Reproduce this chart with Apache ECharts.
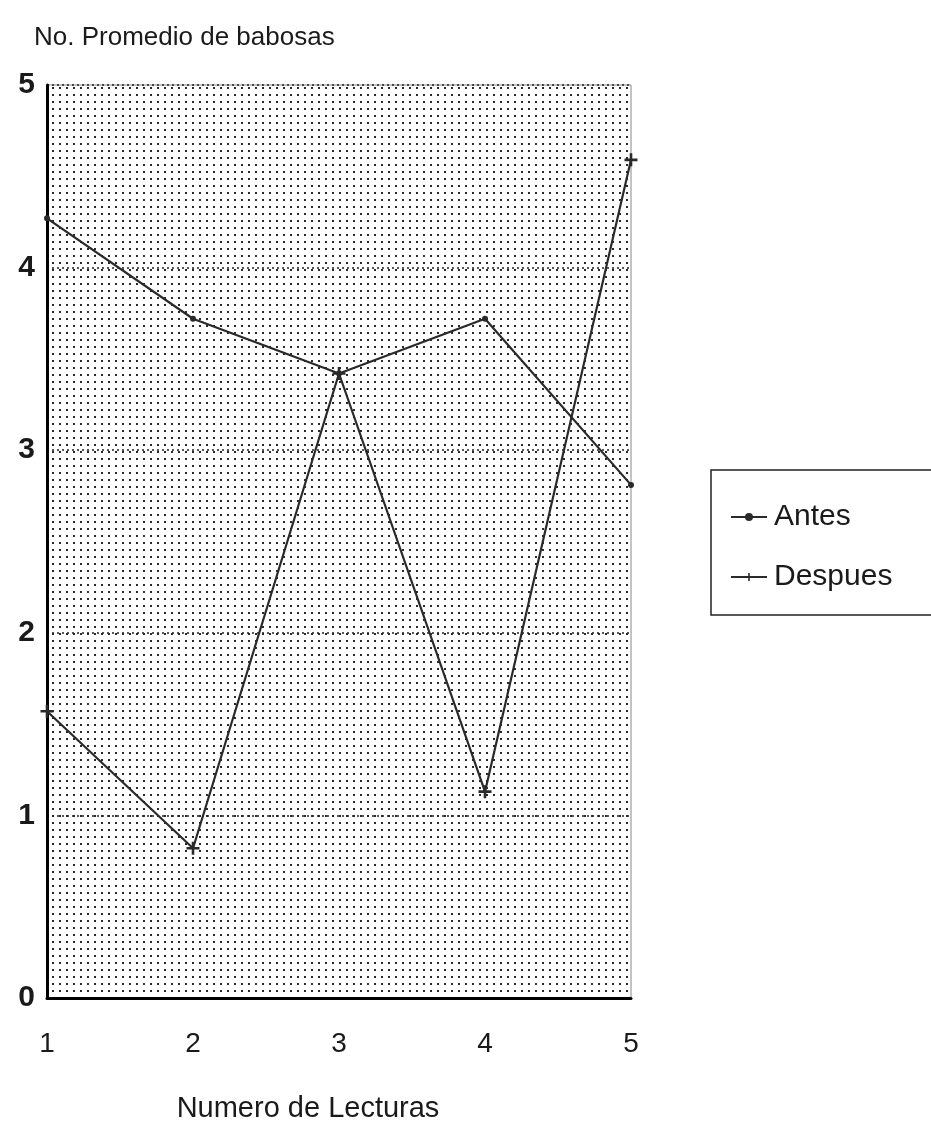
<!DOCTYPE html>
<html>
<head>
<meta charset="utf-8">
<script src="https://cdn.jsdelivr.net/npm/echarts@6/dist/echarts.min.js"></script>
<style>
  html, body { margin: 0; padding: 0; background: #fff; }
  #chart { width: 931px; height: 1128px; }
</style>
</head>
<body>
<div id="chart"></div>
<script>
// Reading numbers (x axis) and average slug counts per series
const lecturas = ['1', '2', '3', '4', '5'];
const antes = [4.27, 3.72, 3.42, 3.72, 2.81];
const despues = [1.57, 0.82, 3.42, 1.13, 4.59];
const yTicks = [0, 1, 2, 3, 4, 5];

// Dotted background texture for the plot area
function dotPattern() {
  const c = document.createElement('canvas');
  c.width = 7; c.height = 7;
  const ctx = c.getContext('2d');
  ctx.fillStyle = '#fff';
  ctx.fillRect(0, 0, 7, 7);
  ctx.fillStyle = '#2a2a2a';
  ctx.fillRect(3, 3, 2, 2);
  return c;
}

const FONT = '"Liberation Sans", Arial, Helvetica, sans-serif';
const INK = '#1a1a1a';
const plusPath = 'path://M4,0H6V4H10V6H6V10H4V6H0V4H4Z';

const chart = echarts.init(document.getElementById('chart'), null, { renderer: 'canvas' });
chart.setOption({
  animation: false,
  backgroundColor: '#fff',
  title: {
    text: 'No. Promedio de babosas',
    left: 29, top: 20,
    textStyle: { fontFamily: FONT, fontSize: 26, fontWeight: 'normal', color: INK }
  },
  graphic: [{
    type: 'rect',
    shape: { x: 711, y: 470, width: 240, height: 145 },
    style: { fill: '#fff', stroke: '#222', lineWidth: 1.5 },
    z: 0
  }],
  legend: {
    left: 725, top: 497,
    orient: 'vertical',
    itemGap: 30,
    itemWidth: 36,
    itemHeight: 10,
    textStyle: { fontFamily: FONT, fontSize: 30, color: INK, padding: [0, 0, 0, 2] },
    data: ['Antes', 'Despues'],
    z: 5
  },
  grid: {
    left: 47, right: 300, top: 85, bottom: 122,
    show: true,
    backgroundColor: { image: dotPattern(), repeat: 'repeat' },
    borderColor: '#888', borderWidth: 1
  },
  xAxis: {
    type: 'category',
    data: lecturas,
    boundaryGap: false,
    name: 'Numero de Lecturas',
    nameLocation: 'middle',
    nameGap: 96,
    nameTextStyle: { fontFamily: FONT, fontSize: 29, color: INK, padding: [0, 62, 0, 0] },
    axisLine: { show: true, onZero: false, lineStyle: { color: '#000', width: 3 } },
    axisTick: { show: false },
    axisLabel: { margin: 32, fontFamily: FONT, fontSize: 28, color: INK },
    splitLine: { show: false }
  },
  yAxis: {
    type: 'value',
    min: 0, max: 5, interval: 1,
    axisLine: { show: true, lineStyle: { color: '#000', width: 3 } },
    axisTick: { show: false },
    axisLabel: {
      margin: 12, fontFamily: FONT, fontSize: 30, fontWeight: 'bold', color: INK,
      formatter: v => (yTicks.includes(v) ? String(v) : '')
    },
    splitLine: { show: true, lineStyle: { color: '#222', width: 1.5, type: [2, 3] } }
  },
  series: [
    {
      name: 'Antes',
      type: 'line',
      data: antes,
      symbol: 'circle',
      symbolSize: 6,
      lineStyle: { color: '#2a2a2a', width: 2.2 },
      itemStyle: { color: '#2a2a2a' },
      z: 3
    },
    {
      name: 'Despues',
      type: 'line',
      data: despues,
      symbol: plusPath,
      symbolSize: 13,
      lineStyle: { color: '#2a2a2a', width: 2.2 },
      itemStyle: { color: '#2a2a2a' },
      z: 3
    }
  ]
});
</script>
</body>
</html>
